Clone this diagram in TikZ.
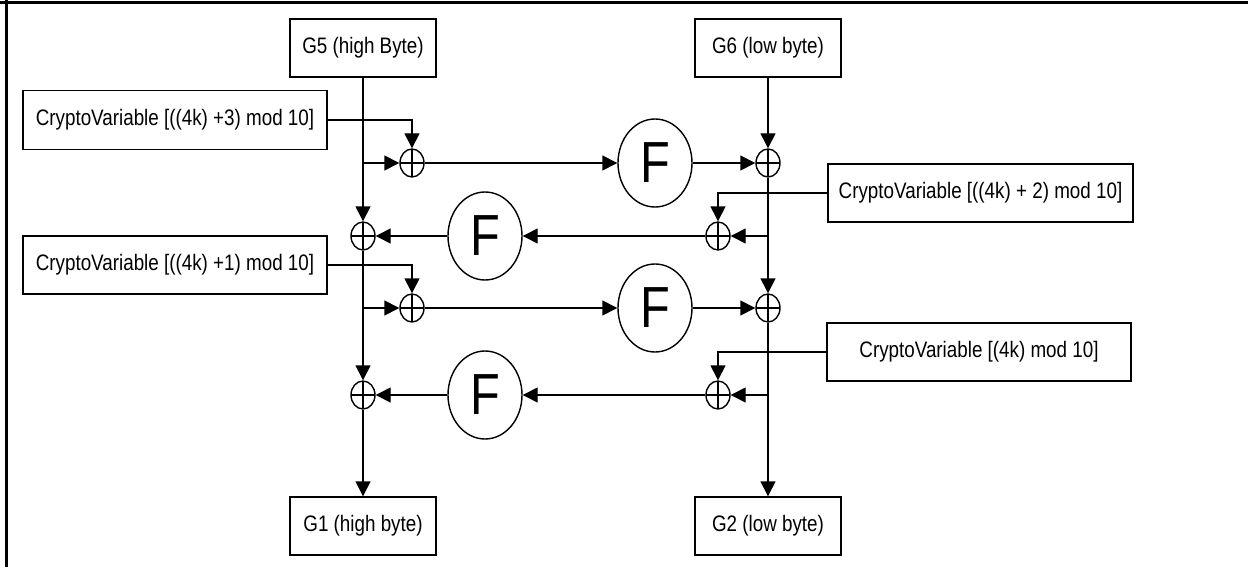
\documentclass[tikz,border=0pt]{standalone}
\usepackage{fontspec}
\setmainfont{Liberation Sans}
\newfontfamily\narrowsans[FakeStretch=0.84]{Liberation Sans}
\usetikzlibrary{arrows.meta,shapes.geometric}

\tikzset{
  blk/.style={draw,inner sep=0pt,minimum height=58pt,font=\narrowsans\fontsize{22.4}{24}\selectfont},
  xr/.style={draw,ellipse,inner sep=0pt,minimum width=24pt,minimum height=28pt,
    path picture={\draw (path picture bounding box.north) -- (path picture bounding box.south)
      (path picture bounding box.west) -- (path picture bounding box.east);}},
  fn/.style={draw,ellipse,inner sep=0pt,minimum width=74pt,minimum height=88pt,font=\narrowsans\fontsize{58}{58}\selectfont},
}

\begin{document}
\begin{tikzpicture}[x=1pt,y=-1pt,line width=1.4pt,>={Triangle[length=15pt,width=15pt]}]
\useasboundingbox (0,0) rectangle (1248,567);
% ---------- frame ----------
\draw[line width=2.4pt] (0,2.5) -- (1248,2.5);
\draw[line width=2.4pt] (6.5,0) -- (6.5,567);
% ---------- input / output words ----------
\node[blk,minimum width=146pt] (g5) at (363,48) {G5 (high Byte)};
\node[blk,minimum width=146pt] (g6) at (768,48) {G6 (low byte)};
\node[blk,minimum width=146pt] (g1) at (363,526) {G1 (high byte)};
\node[blk,minimum width=146pt] (g2) at (768,526) {G2 (low byte)};
% ---------- key words ----------
\node[blk,minimum width=304pt,minimum height=59pt] (cv3) at (175,120) {CryptoVariable [((4k) +3) mod 10]};
\node[blk,minimum width=305pt] (cv2) at (980.5,193) {CryptoVariable [((4k) + 2) mod 10]};
\node[blk,minimum width=304pt] (cv1) at (175,265) {CryptoVariable [((4k) +1) mod 10]};
\node[blk,minimum width=304pt] (cv0) at (979,352) {CryptoVariable [(4k) mod 10]};
% ---------- xor and F rounds ----------
\node[xr] (xa) at (412,163) {};
\node[xr] (xb) at (768,163) {};
\node[xr] (xc) at (363,236) {};
\node[xr] (xd) at (718,236) {};
\node[xr] (xe) at (412,308) {};
\node[xr] (xf) at (768,308) {};
\node[xr] (xg) at (363,395) {};
\node[xr] (xh) at (718,395) {};
\node[fn] (fa) at (655,163) {F};
\node[fn] (fb) at (485,236) {F};
\node[fn] (fc) at (655,308) {F};
\node[fn] (fd) at (485,395) {F};
% branch points on the two columns
\coordinate (ba) at (g5.south |- xa);
\coordinate (be) at (g5.south |- xe);
\coordinate (bd) at (g6.south |- xd);
\coordinate (bh) at (g6.south |- xh);
% ---------- columns ----------
\draw[->] (g5) -- (xc);
\draw[->] (xc) -- (xg);
\draw[->] (xg) -- (g1);
\draw[->] (g6) -- (xb);
\draw[->] (xb) -- (xf);
\draw[->] (xf) -- (g2);
% ---------- rounds ----------
\draw[->] (ba) -- (xa);
\draw[->] (xa) -- (fa);
\draw[->] (fa) -- (xb);
\draw[->] (bd) -- (xd);
\draw[->] (xd) -- (fb);
\draw[->] (fb) -- (xc);
\draw[->] (be) -- (xe);
\draw[->] (xe) -- (fc);
\draw[->] (fc) -- (xf);
\draw[->] (bh) -- (xh);
\draw[->] (xh) -- (fd);
\draw[->] (fd) -- (xg);
% ---------- key inputs ----------
\draw[->] (cv3.east) -| (xa);
\draw[->] (cv2.west) -| (xd);
\draw[->] (cv1.east) -| (xe);
\draw[->] (cv0.west) -| (xh);
\end{tikzpicture}
\end{document}
